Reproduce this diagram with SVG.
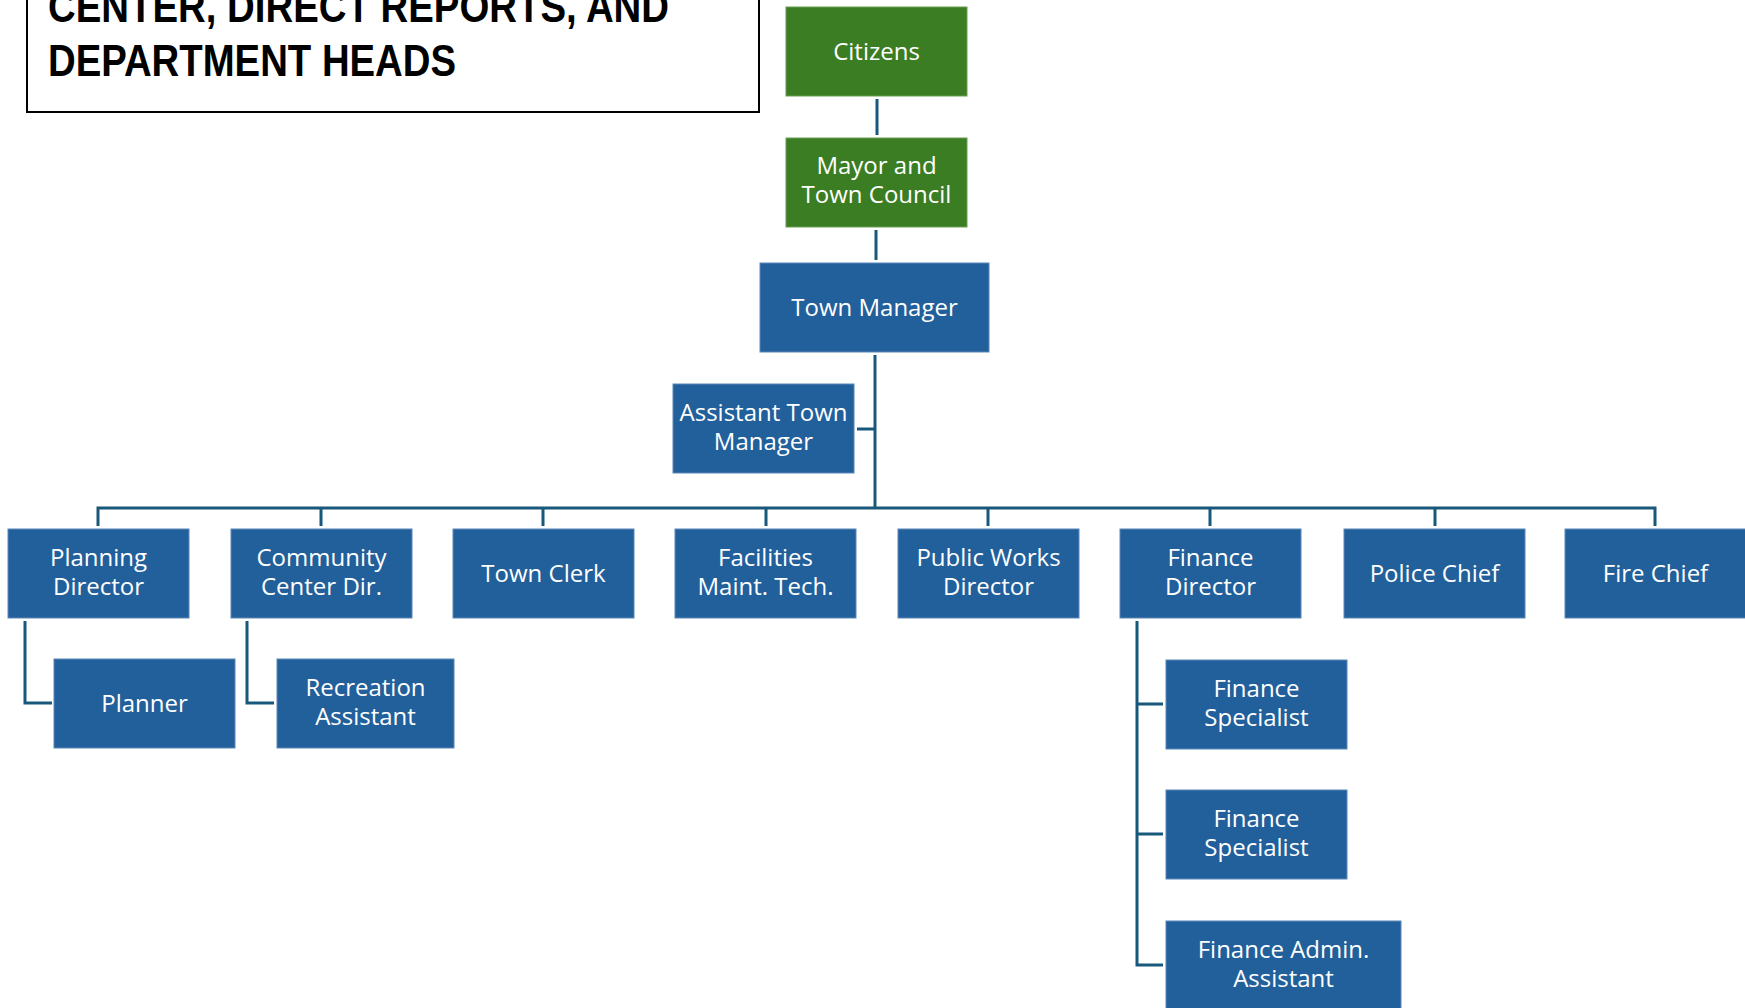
<svg xmlns="http://www.w3.org/2000/svg" width="1745" height="1008" viewBox="0 0 1745 1008">
<style>
.g{fill:#3B7D23;stroke:#6A9E55;stroke-width:1}
.b{fill:#22609B;stroke:#5A88B8;stroke-width:1}
.t{font-family:"Open Sans","Noto Sans","Liberation Sans",sans-serif;font-size:24px;fill:#ffffff;text-anchor:middle}
.c{fill:none;stroke:#18587A;stroke-width:3}
.h{font-family:"Liberation Sans",Arial,sans-serif;font-weight:bold;font-size:44px;fill:#000000}
</style>
<rect width="1745" height="1008" fill="#ffffff"/>
<g id="title">
<rect x="27" y="-10" width="732" height="122" fill="#ffffff" stroke="#000000" stroke-width="2"/>
<text class="h" x="48" y="22" textLength="621" lengthAdjust="spacingAndGlyphs">CENTER, DIRECT REPORTS, AND</text>
<text class="h" x="48" y="76" textLength="408" lengthAdjust="spacingAndGlyphs">DEPARTMENT HEADS</text>
</g>
<g id="connectors">
<path class="c" d="M877 99V135"/>
<path class="c" d="M876 230V260"/>
<path class="c" d="M875 355V508"/>
<path class="c" d="M857 429H875"/>
<path class="c" d="M98 526V508H1655V526"/>
<path class="c" d="M321 508V526M543 508V526M766 508V526M988 508V526M1210 508V526M1435 508V526"/>
<path class="c" d="M25 621V703H52"/>
<path class="c" d="M247 621V703H274"/>
<path class="c" d="M1137 621V965H1163M1137 704H1163M1137 834H1163"/>
</g>
<g id="citizens"><rect class="g" x="786" y="7" width="181" height="89"/><text class="t" x="876.5" y="59.5">Citizens</text></g>
<g id="mayor"><rect class="g" x="786" y="138" width="181" height="89"/><text class="t" x="876.5" y="174">Mayor and</text><text class="t" x="876.5" y="203">Town Council</text></g>
<g id="town-manager"><rect class="b" x="760" y="263" width="229" height="89"/><text class="t" x="874.5" y="315.5">Town Manager</text></g>
<g id="assistant-town-manager"><rect class="b" x="673" y="384" width="181" height="89"/><text class="t" x="763.5" y="421">Assistant Town</text><text class="t" x="763.5" y="450">Manager</text></g>
<g id="planning-director"><rect class="b" x="8" y="529" width="181" height="89"/><text class="t" x="98.5" y="566">Planning</text><text class="t" x="98.5" y="595">Director</text></g>
<g id="community-center-dir"><rect class="b" x="231" y="529" width="181" height="89"/><text class="t" x="321.5" y="566">Community</text><text class="t" x="321.5" y="595">Center Dir.</text></g>
<g id="town-clerk"><rect class="b" x="453" y="529" width="181" height="89"/><text class="t" x="543.5" y="581.5">Town Clerk</text></g>
<g id="facilities"><rect class="b" x="675" y="529" width="181" height="89"/><text class="t" x="765.5" y="566">Facilities</text><text class="t" x="765.5" y="595">Maint. Tech.</text></g>
<g id="public-works"><rect class="b" x="898" y="529" width="181" height="89"/><text class="t" x="988.5" y="566">Public Works</text><text class="t" x="988.5" y="595">Director</text></g>
<g id="finance-director"><rect class="b" x="1120" y="529" width="181" height="89"/><text class="t" x="1210.5" y="566">Finance</text><text class="t" x="1210.5" y="595">Director</text></g>
<g id="police-chief"><rect class="b" x="1344" y="529" width="181" height="89"/><text class="t" x="1434.5" y="581.5">Police Chief</text></g>
<g id="fire-chief"><rect class="b" x="1565" y="529" width="181" height="89"/><text class="t" x="1655.5" y="581.5">Fire Chief</text></g>
<g id="planner"><rect class="b" x="54" y="659" width="181" height="89"/><text class="t" x="144.5" y="711.5">Planner</text></g>
<g id="recreation-assistant"><rect class="b" x="277" y="659" width="177" height="89"/><text class="t" x="365.5" y="696">Recreation</text><text class="t" x="365.5" y="725">Assistant</text></g>
<g id="finance-specialist-1"><rect class="b" x="1166" y="660" width="181" height="89"/><text class="t" x="1256.5" y="697">Finance</text><text class="t" x="1256.5" y="726">Specialist</text></g>
<g id="finance-specialist-2"><rect class="b" x="1166" y="790" width="181" height="89"/><text class="t" x="1256.5" y="827">Finance</text><text class="t" x="1256.5" y="856">Specialist</text></g>
<g id="finance-admin-assistant"><rect class="b" x="1166" y="921" width="235" height="95"/><text class="t" x="1283.5" y="958">Finance Admin.</text><text class="t" x="1283.5" y="987">Assistant</text></g>
</svg>
